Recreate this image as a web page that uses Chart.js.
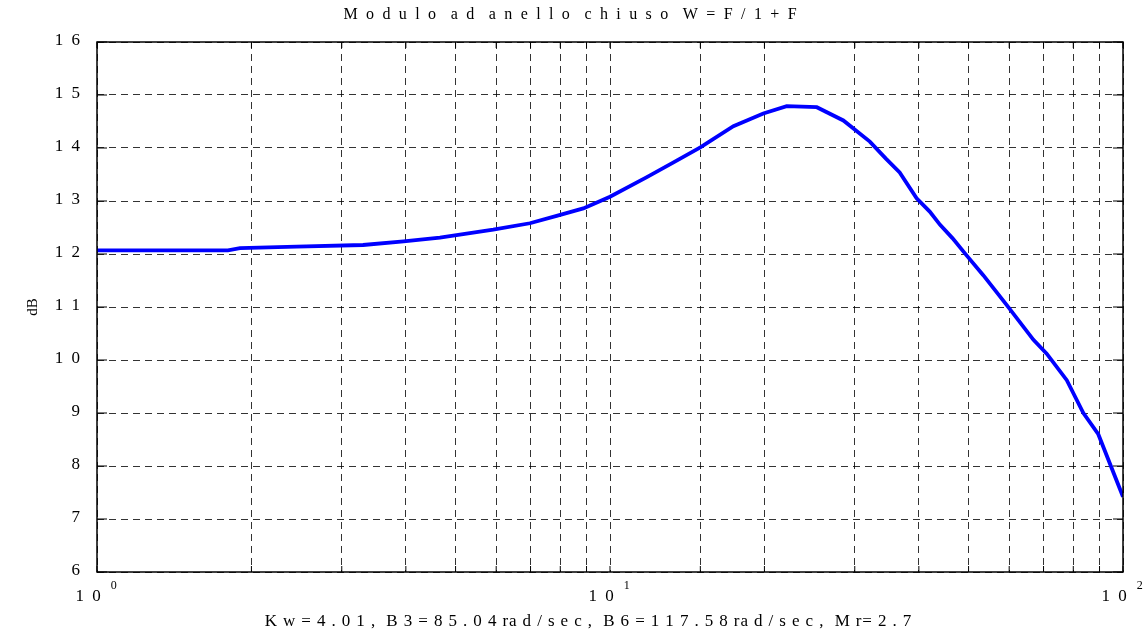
<!DOCTYPE html>
<html>
<head>
<meta charset="utf-8">
<script src="https://cdn.jsdelivr.net/npm/chart.js@4.4.0/dist/chart.umd.min.js"></script>
<style>
  html, body { margin: 0; padding: 0; background: #fff; }
</style>
</head>
<body>
<canvas id="canvas" width="1148" height="637"></canvas>
<script>
// frequency (rad/sec) and closed loop magnitude (dB)
var freqs = [1, 1.8, 1.9, 2.45, 3.3, 3.96, 4.66, 5.92, 6.98, 7.87, 8.87, 10, 11.8, 13.3, 15, 17.4, 19.9, 22.1, 25.3, 28.5, 32.1, 34.5, 36.7, 39.6, 42, 44, 46.5, 49.6, 53.4, 59.3, 66.9, 71, 77.7, 83.7, 89.5, 100];
var gains = [12.07, 12.07, 12.11, 12.14, 12.17, 12.24, 12.31, 12.46, 12.58, 12.72, 12.86, 13.08, 13.45, 13.73, 14.01, 14.41, 14.65, 14.79, 14.77, 14.52, 14.12, 13.8, 13.54, 13.05, 12.8, 12.55, 12.3, 11.97, 11.6, 11.04, 10.38, 10.12, 9.62, 9.0, 8.6, 7.42];

var yTickValues = [6, 7, 8, 9, 10, 11, 12, 13, 14, 15, 16];
var yTickLabels = ['6', '7', '8', '9', '1 0', '1 1', '1 2', '1 3', '1 4', '1 5', '1 6'];
var xTickValues = [1, 10, 100];
var xTickExps = ['0', '1', '2'];

var titleText = 'M o d u l o  a d  a n e l l o  c h i u s o  W = F / 1 + F';
var xTitle = 'K w = 4 . 0 1 ,  B 3 = 8 5 . 0 4 ra d / s e c ,  B 6 = 1 1 7 . 5 8 ra d / s e c ,  M r= 2 . 7';
var yTitle = 'dB';

var serif = "'Liberation Serif', 'Times New Roman', serif";

var points = freqs.map(function (f, i) { return { x: f, y: gains[i] }; });

// text drawn with extra spacing, centred without the trailing gap
function spacedText(ctx, txt, x, y, gap) {
    ctx.letterSpacing = gap + 'px';
    var w = ctx.measureText(txt).width - gap;
    var align = ctx.textAlign;
    ctx.textAlign = 'left';
    var x0 = align === 'center' ? x - w / 2 : (align === 'right' ? x - w : x);
    ctx.fillText(txt, x0, y);
    ctx.textAlign = align;
    ctx.letterSpacing = '0px';
}

var textPlugin = {
    id: 'matlabText',
    afterDraw: function (chart) {
        var ctx = chart.ctx;
        var a = chart.chartArea;
        var xs = chart.scales.x, ys = chart.scales.y;
        ctx.save();

        // box round the axes
        ctx.strokeStyle = '#000';
        ctx.lineWidth = 1.5;
        ctx.strokeRect(a.left, a.top, a.right - a.left, a.bottom - a.top);

        // ticks pointing inside
        ctx.lineWidth = 1;
        xs.ticks.forEach(function (t) {
            var px = xs.getPixelForValue(t.value);
            ctx.beginPath();
            ctx.moveTo(px, a.bottom); ctx.lineTo(px, a.bottom - 6);
            ctx.moveTo(px, a.top); ctx.lineTo(px, a.top + 6);
            ctx.stroke();
        });
        yTickValues.forEach(function (v) {
            var py = ys.getPixelForValue(v);
            ctx.beginPath();
            ctx.moveTo(a.left, py); ctx.lineTo(a.left + 10, py);
            ctx.moveTo(a.right, py); ctx.lineTo(a.right - 10, py);
            ctx.stroke();
        });

        ctx.fillStyle = '#000';

        // y tick labels
        ctx.font = '17px ' + serif;
        ctx.textAlign = 'right';
        ctx.textBaseline = 'middle';
        yTickValues.forEach(function (v, i) {
            spacedText(ctx, yTickLabels[i], a.left - 17, ys.getPixelForValue(v) - 1, 2);
        });

        // x tick labels, 10 with exponent
        ctx.textBaseline = 'alphabetic';
        ctx.textAlign = 'left';
        xTickValues.forEach(function (v, i) {
            var px = xs.getPixelForValue(v);
            ctx.font = '17px ' + serif;
            ctx.letterSpacing = '2px';
            var wb = ctx.measureText('1 0').width;
            ctx.letterSpacing = '0px';
            ctx.font = '12px ' + serif;
            var we = ctx.measureText(xTickExps[i]).width;
            var x0 = px - (wb + 8 + we) / 2 - 1;
            ctx.font = '17px ' + serif;
            spacedText(ctx, '1 0', x0, a.bottom + 29, 2);
            ctx.font = '12px ' + serif;
            ctx.fillText(xTickExps[i], x0 + wb + 8, a.bottom + 17);
        });

        // title and axis titles
        ctx.textAlign = 'center';
        ctx.font = '16px ' + serif;
        spacedText(ctx, titleText, 570, 19, 2.2);
        ctx.font = '17px ' + serif;
        spacedText(ctx, xTitle, 588, a.bottom + 54, 0.9);

        ctx.translate(37, (a.top + a.bottom) / 2);
        ctx.rotate(-Math.PI / 2);
        ctx.font = '15px ' + serif;
        ctx.fillText(yTitle, 0, 0);
        ctx.restore();
    }
};

var config = {
    type: 'line',
    data: {
        datasets: [{
            data: points,
            borderColor: '#0000ff',
            borderWidth: 3.8,
            pointRadius: 0,
            tension: 0,
            fill: false
        }]
    },
    options: {
        responsive: false,
        animation: false,
        devicePixelRatio: 1,
        layout: {
            padding: { left: 97, right: 25, top: 42, bottom: 65 }
        },
        plugins: {
            legend: { display: false },
            title: { display: false },
            tooltip: { enabled: false }
        },
        scales: {
            x: {
                type: 'logarithmic',
                min: 1,
                max: 100,
                ticks: { display: false },
                grid: { color: 'rgba(0,0,0,0.8)', lineWidth: 1, drawTicks: false },
                border: { display: false, dash: [7, 5] }
            },
            y: {
                type: 'linear',
                min: 6,
                max: 16,
                ticks: { display: false, stepSize: 1 },
                grid: { color: 'rgba(0,0,0,0.8)', lineWidth: 1, drawTicks: false },
                border: { display: false, dash: [7, 5] }
            }
        }
    },
    plugins: [textPlugin]
};

window.onload = function () {
    window.myChart = new Chart(document.getElementById('canvas'), config);
};
</script>
</body>
</html>
